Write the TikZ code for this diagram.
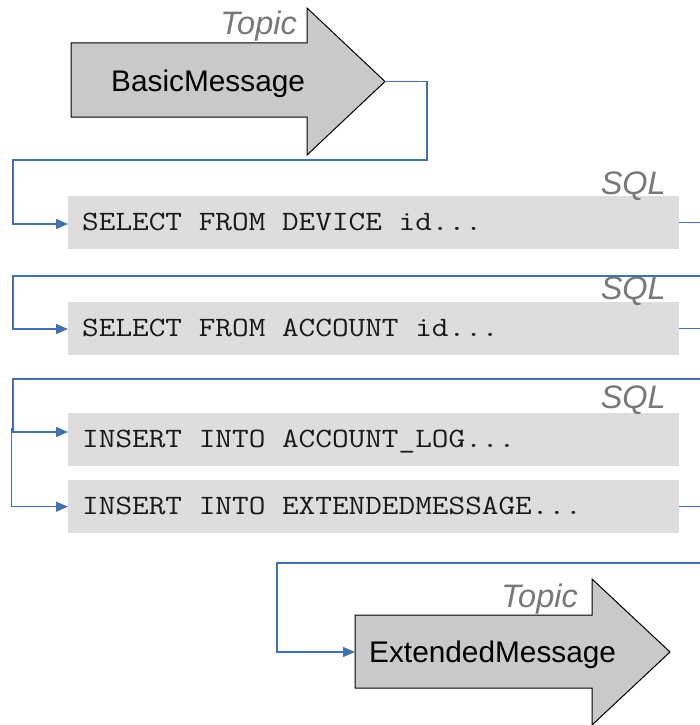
\documentclass[tikz,border=0pt]{standalone}
\usepackage{fontspec}
\setmainfont{Liberation Sans}
\usetikzlibrary{arrows.meta}
\definecolor{conncol}{RGB}{66,112,178}
\definecolor{boxgray}{RGB}{221,221,221}
\definecolor{arrowgray}{RGB}{201,201,201}
\definecolor{labelgray}{RGB}{120,120,120}
\definecolor{codecol}{RGB}{25,25,25}
\begin{document}
\begin{tikzpicture}[x=1pt,y=1pt,
  connector/.style={draw=conncol, line width=1.2pt},
  arr/.style={-{Triangle[length=12pt,width=10pt]}},
  sqlbox/.style={fill=boxgray, draw=none, minimum width=611pt, minimum height=53pt, inner sep=0pt, anchor=north west},
  codetext/.style={font=\ttfamily\fontsize{28}{30}\selectfont, text=codecol, inner sep=0pt, anchor=base west},
  kindlabel/.style={font=\itshape\fontsize{32.5}{34}\selectfont, text=labelgray, inner sep=0pt, anchor=base east},
  msgtext/.style={font=\fontsize{29.8}{31}\selectfont, text=black, inner sep=0pt, anchor=base west},
  topicshape/.style={fill=arrowgray, draw=black, line width=1pt, line join=miter}
]
\useasboundingbox (0,0) rectangle (700,-725);

% Topic arrows
\draw[topicshape] (71,-43) -- (307,-43) -- (307,-8) -- (385,-81.5) -- (307,-155) -- (307,-117) -- (71,-117) -- cycle;
\draw[topicshape] (355,-615) -- (592,-615) -- (592,-579) -- (670,-652) -- (592,-725) -- (592,-688) -- (355,-688) -- cycle;
\coordinate (bmtip) at (385,-81.5);
\coordinate (emin) at (355,-652);

\node[msgtext] (bm) at (111,-91) {BasicMessage};
\node[msgtext] (em) at (369,-662) {ExtendedMessage};
\node[kindlabel] (tp1) at (297,-35) {Topic};
\node[kindlabel] (tp2) at (578,-607) {Topic};

% SQL boxes
\node[sqlbox] (b1) at (68,-196) {};
\node[sqlbox] (b2) at (68,-302) {};
\node[sqlbox] (b3) at (68,-413) {};
\node[sqlbox] (b4) at (68,-480) {};

\node[codetext] (t1) at (82,-230) {\scalebox{1.155}[1]{SELECT FROM DEVICE id...}};
\node[codetext] (t2) at (82,-336) {\scalebox{1.155}[1]{SELECT FROM ACCOUNT id...}};
\node[codetext] (t3) at (82,-447) {\scalebox{1.155}[1]{INSERT INTO ACCOUNT\_LOG...}};
\node[codetext] (t4) at (82,-514) {\scalebox{1.155}[1]{INSERT INTO EXTENDEDMESSAGE...}};

\node[kindlabel] (s1) at (666,-194) {SQL};
\node[kindlabel] (s2) at (666,-299) {SQL};
\node[kindlabel] (s3) at (666,-408) {SQL};

% edge coordinates
\coordinate (e1) at (700,-222.5);
\coordinate (r2) at (700,-276);
\coordinate (e2) at (700,-328.5);
\coordinate (r3) at (700,-379);
\coordinate (s4) at (11.5,-428);
\coordinate (e4) at (700,-506.5);
\coordinate (r5) at (700,-563);

% connectors
\draw[connector,arr] (bmtip) -- (427,-81.5) -- (427,-160) -| (13,-224) -- (b1.west |- 0,-224);
\draw[connector] (b1.east) -- (b1.east -| e1);
\draw[connector,arr] (r2) -| (13,-329) -- (b2.west |- 0,-329);
\draw[connector] (b2.east) -- (b2.east -| e2);
\draw[connector,arr] (r3) -| (13,-432) -- (b3.west |- 0,-432);
\draw[connector,arr] (s4) |- (b4.west);
\draw[connector] (b4.east) -- (b4.east -| e4);
\draw[connector,arr] (r5) -| (277,-652) -- (emin);
\end{tikzpicture}
\end{document}
